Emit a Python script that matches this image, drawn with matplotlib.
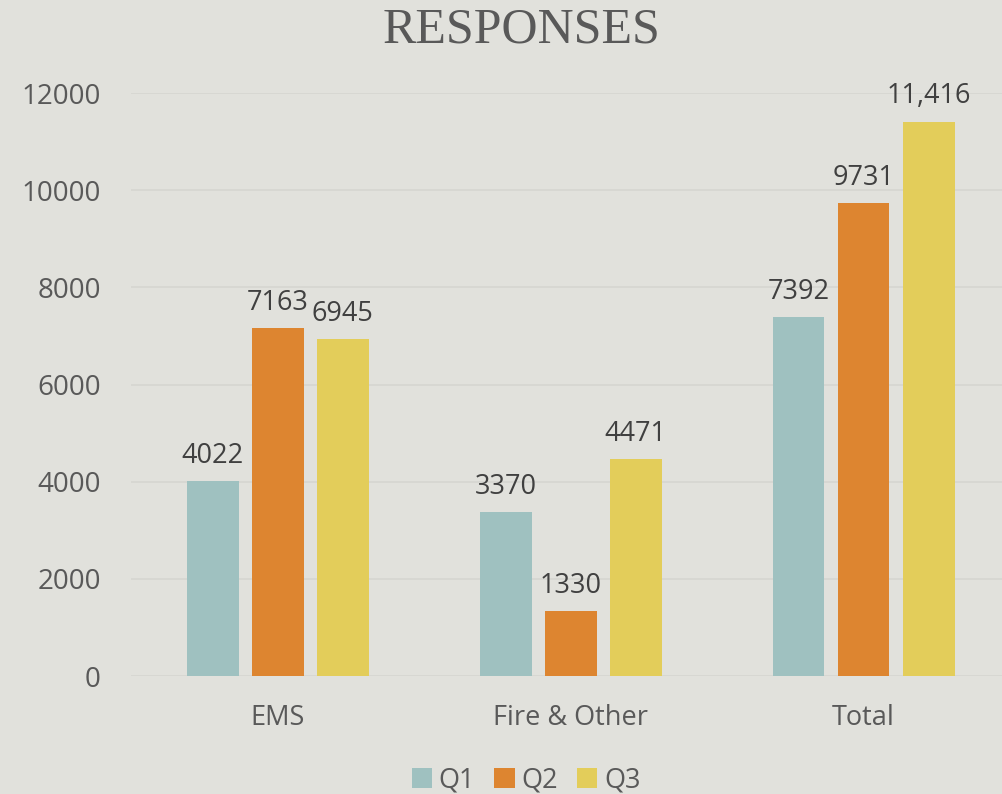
import matplotlib
matplotlib.use("Agg")
import matplotlib.pyplot as plt
import numpy as np
from matplotlib.patches import Patch

categories = ["EMS", "Fire & Other", "Total"]
series_names = ["Q1", "Q2", "Q3"]
q1 = [4022, 3370, 7392]
q2 = [7163, 1330, 9731]
q3 = [6945, 4471, 11416]
label_texts = [["4022", "3370", "7392"], ["7163", "1330", "9731"], ["6945", "4471", "11,416"]]
colors = ["#9fc1c0", "#dd8530", "#e3cd5a"]
yticks = [0, 2000, 4000, 6000, 8000, 10000, 12000]

bg = "#e1e1dc"
fig = plt.figure(figsize=(10.02, 7.94), dpi=100, facecolor=bg)
ax = fig.add_axes([0.131, 0.1486, 0.877, 0.734], facecolor=bg)

font = "Open Sans"
x = np.arange(len(categories))
width = 0.177
pitch = 0.222
for i, (vals, c, labs) in enumerate(zip([q1, q2, q3], colors, label_texts)):
    xs = x + (i - 1) * pitch
    ax.bar(xs, vals, width=width, color=c, zorder=3)
    for xx, v, t in zip(xs, vals, labs):
        ax.text(xx, v + 230, t, ha="center", va="bottom", fontsize=19.5,
                color="#404040", family=font, clip_on=False)

ax.set_xlim(-0.5, 2.5)
ax.set_ylim(0, 12000)
ax.set_yticks(yticks)
ax.set_yticklabels([str(t) for t in yticks], family=font, fontsize=20, color="#595959")
ax.set_xticks(x)
ax.set_xticklabels(categories, family=font, fontsize=19.5, color="#595959")
ax.tick_params(axis="both", length=0)
ax.tick_params(axis="y", pad=22)
ax.tick_params(axis="x", pad=20)
ax.grid(axis="y", color="#d6d6d1", linewidth=1.2, zorder=0)
for s in ax.spines.values():
    s.set_visible(False)

fig.text(0.52, 0.962, "RESPONSES", ha="center", va="center", fontsize=36,
         family="Liberation Serif", color="#595959")

handles = [Patch(facecolor=c, edgecolor="none") for c in colors]
fig.legend(handles, series_names, loc="center", bbox_to_anchor=(0.525, 0.017),
           ncol=3, frameon=False, prop={"family": font, "size": 19.5},
           labelcolor="#595959", handlelength=0.75, handleheight=0.75,
           handletextpad=0.25, columnspacing=0.7)

fig.savefig("out.png", dpi=100, facecolor=bg)
